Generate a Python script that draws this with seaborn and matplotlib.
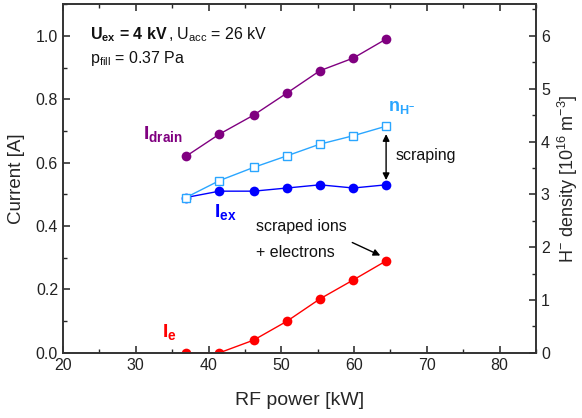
import matplotlib
matplotlib.use("Agg")
import matplotlib.pyplot as plt
import seaborn as sns
import numpy as np
from matplotlib.ticker import MultipleLocator

rf_power = [36.9, 41.5, 46.2, 50.8, 55.3, 59.9, 64.4]
i_drain = [0.62, 0.69, 0.75, 0.82, 0.89, 0.93, 0.99]
i_ex = [0.49, 0.51, 0.51, 0.52, 0.53, 0.52, 0.53]
i_e = [0.0, 0.0, 0.04, 0.10, 0.17, 0.23, 0.29]
n_h = [2.94, 3.26, 3.51, 3.73, 3.95, 4.11, 4.29]

c_drain = "#800080"
c_ex = "#0000ff"
c_e = "#ff0000"
c_n = "#2aa6ff"

sns.set_style("ticks")
plt.rcParams['font.family'] = ['Liberation Sans', 'DejaVu Sans']
plt.rcParams['mathtext.fontset'] = 'custom'
plt.rcParams['mathtext.rm'] = 'Liberation Sans'
plt.rcParams['mathtext.it'] = 'Liberation Sans'
plt.rcParams['mathtext.bf'] = 'Liberation Sans:bold'
plt.rcParams['axes.linewidth'] = 1.2

fig = plt.figure(figsize=(5.82, 4.18), dpi=100)
ax = fig.add_axes([0.1082, 0.156, 0.921 - 0.1082, 0.990 - 0.156])
ax2 = ax.twinx()

sns.lineplot(x=rf_power, y=i_drain, ax=ax, color=c_drain, marker='o', markersize=7,
             markeredgewidth=0, lw=1.0)
sns.lineplot(x=rf_power, y=i_ex, ax=ax, color=c_ex, marker='o', markersize=7,
             markeredgewidth=0, lw=1.0, zorder=3)
sns.lineplot(x=rf_power, y=i_e, ax=ax, color=c_e, marker='o', markersize=7,
             markeredgewidth=0, lw=1.0)
sns.lineplot(x=rf_power, y=n_h, ax=ax2, color=c_n, marker='s', markersize=5.5,
             markerfacecolor='white', markeredgecolor=c_n, markeredgewidth=1.0, lw=1.0)

ax.set_xlim(20, 85)
ax.set_ylim(0, 1.1)
ax2.set_ylim(0, 6.6)

ax.xaxis.set_major_locator(MultipleLocator(10))
ax.xaxis.set_minor_locator(MultipleLocator(5))
ax.yaxis.set_major_locator(MultipleLocator(0.2))
ax.yaxis.set_minor_locator(MultipleLocator(0.1))
ax2.yaxis.set_major_locator(MultipleLocator(1))
ax2.yaxis.set_minor_locator(MultipleLocator(0.5))
ax.yaxis.set_major_formatter(matplotlib.ticker.FormatStrFormatter('%.1f'))

for a in (ax, ax2):
    a.tick_params(which='major', direction='in', length=5, width=1.1, labelsize=11.5, colors='#222222')
    a.tick_params(which='minor', direction='in', length=3, width=1.0)
ax.tick_params(which='both', top=True, right=False)
ax2.tick_params(which='both', left=False, right=True)
for a in (ax, ax2):
    for s in a.spines.values():
        s.set_visible(True)
        s.set_color('#333333')
        s.set_linewidth(1.2)

ax.set_xlabel("RF power [kW]", fontsize=14, labelpad=14)
ax.set_ylabel("Current [A]", fontsize=13.5, labelpad=8)
ax2.set_ylabel(r"H$^{-}$ density [10$^{16}$ m$^{-3}$]", fontsize=13, labelpad=4)

# annotations
t1 = ax.text(23.7, 0.99, r"U$_{\mathbf{ex}}$ = 4 kV", fontweight='bold',
             fontsize=11.5, ha='left', va='baseline', color='#111111')
ax.annotate(r", U$_{\mathrm{acc}}$ = 26 kV", xy=(1, 0), xycoords=t1,
            fontsize=11.5, ha='left', va='bottom', color='#111111')
ax.text(23.7, 0.928, r"p$_{\mathrm{fill}}$ = 0.37 Pa", fontsize=11.5, ha='left', va='center', color='#111111')
ax.text(31.0, 0.69, r"$\mathbf{I_{drain}}$", fontsize=14, color=c_drain, ha='left', va='center')
ax.text(40.8, 0.443, r"$\mathbf{I_{ex}}$", fontsize=14, color=c_ex, ha='left', va='center')
ax.text(33.6, 0.065, r"$\mathbf{I_{e}}$", fontsize=14, color=c_e, ha='left', va='center')
ax.text(64.7, 0.773, r"$\mathbf{n_{H^{-}}}$", fontsize=13, color=c_n, ha='left', va='center')
ax.text(65.7, 0.622, "scraping", fontsize=11.5, color='#111111', ha='left', va='center')
ax.text(46.5, 0.40, "scraped ions", fontsize=11.5, color='#111111', ha='left', va='center')
ax.text(46.5, 0.316, "+ electrons", fontsize=11.5, color='#111111', ha='left', va='center')

ax.annotate('', xy=(rf_power[-1], 0.69), xytext=(rf_power[-1], 0.545),
            arrowprops=dict(arrowstyle='<|-|>', color='black', lw=1.0,
                            mutation_scale=10, shrinkA=0, shrinkB=0))
ax.annotate('', xy=(63.6, 0.307), xytext=(59.75, 0.348),
            arrowprops=dict(arrowstyle='-|>', color='black', lw=1.0,
                            mutation_scale=10, shrinkA=0, shrinkB=0))

fig.savefig("out.png", dpi=100)
